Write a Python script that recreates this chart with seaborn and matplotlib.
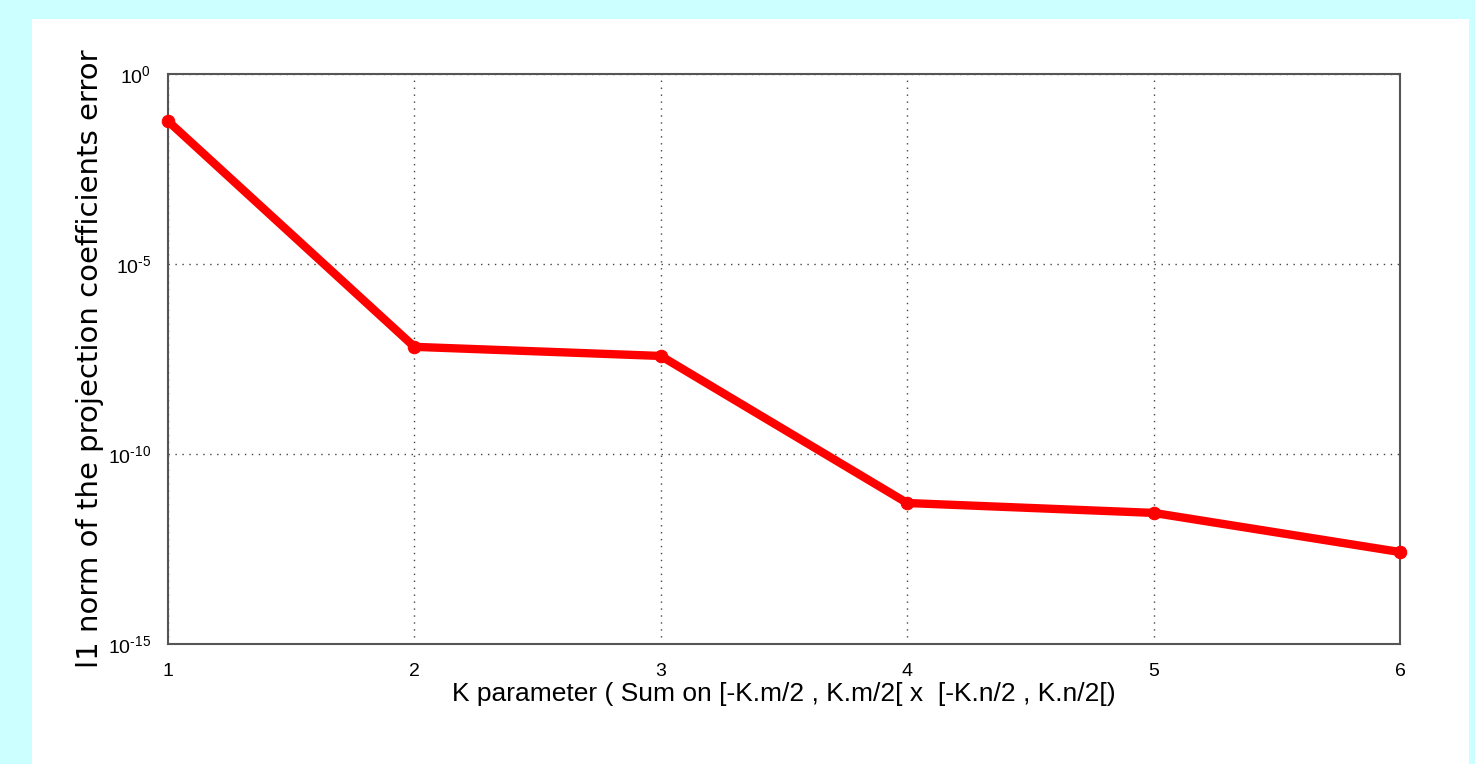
import numpy as np
import pandas as pd
import matplotlib
matplotlib.use('Agg')
import matplotlib.pyplot as plt
import matplotlib.ticker as mticker
from matplotlib.patches import Rectangle
import seaborn as sns

# Data (log10 of the error)
k_values = [1, 2, 3, 4, 5, 6]
errors = [10**-1.24, 10**-7.18, 10**-7.42, 10**-11.29, 10**-11.55, 10**-12.58]
y_ticks = [1e-15, 1e-10, 1e-5, 1e0]
y_exponents = ['-15', '-10', '-5', '0']

df = pd.DataFrame({'K': k_values, 'error': errors})

sns.set_style('white')
plt.rcParams['font.family'] = ['Liberation Sans', 'DejaVu Sans']
plt.rcParams['mathtext.fontset'] = 'custom'
plt.rcParams['mathtext.rm'] = 'Liberation Sans'
plt.rcParams['mathtext.default'] = 'regular'
plt.rcParams['text.color'] = 'black'
plt.rcParams['xtick.color'] = 'black'
plt.rcParams['ytick.color'] = 'black'

fig = plt.figure(figsize=(14.75, 7.64), dpi=100)
fig.patch.set_facecolor('#ccffff')
# white panel behind the plot
fig.patches.append(Rectangle((32 / 1475, 0), (1469 - 32) / 1475, 1 - 19 / 764,
                             transform=fig.transFigure, facecolor='white',
                             edgecolor='none', zorder=-10))

ax = fig.add_axes([168 / 1475, 1 - 644 / 764, (1400 - 168) / 1475, (644 - 74) / 764])
ax.set_facecolor('white')

sns.lineplot(data=df, x='K', y='error', ax=ax, color='#ff0000', linewidth=6,
             marker='o', markersize=9, markeredgecolor='#ff0000', clip_on=False,
             zorder=5)

ax.set_yscale('log')
ax.set_xlim(1, 6)
ax.set_ylim(1e-15, 1e0)
ax.set_xticks(k_values)
ax.set_yticks(y_ticks)
ax.yaxis.set_minor_locator(mticker.NullLocator())
# plain hyphen in the exponent, as in the original
ax.set_yticklabels([r'$10^{\mathregular{%s}}$' % e.replace('-', '\u2010') for e in y_exponents])

ax.grid(True, which='major', color='#444444', linestyle=(0, (1, 4)), linewidth=1)
for s in ax.spines.values():
    s.set_color('#555555')
    s.set_linewidth(1.5)
ax.tick_params(axis='both', direction='in', length=10, width=1, color='#333333',
               labelsize=14, labelcolor='black')
ax.tick_params(axis='x', pad=14)
ax.tick_params(axis='y', pad=12)

ax.set_xlabel('K parameter ( Sum on [-K.m/2 , K.m/2[ x  [-K.n/2 , K.n/2[)', fontsize=19,
              labelpad=1, color='black')
ax.set_ylabel('l1 norm of the projection coefficients error', fontsize=21,
              family=['DejaVu Sans'], color='black')
ax.yaxis.set_label_coords(-0.052, 0.5)

fig.savefig('out.png', dpi=100, facecolor=fig.get_facecolor())
